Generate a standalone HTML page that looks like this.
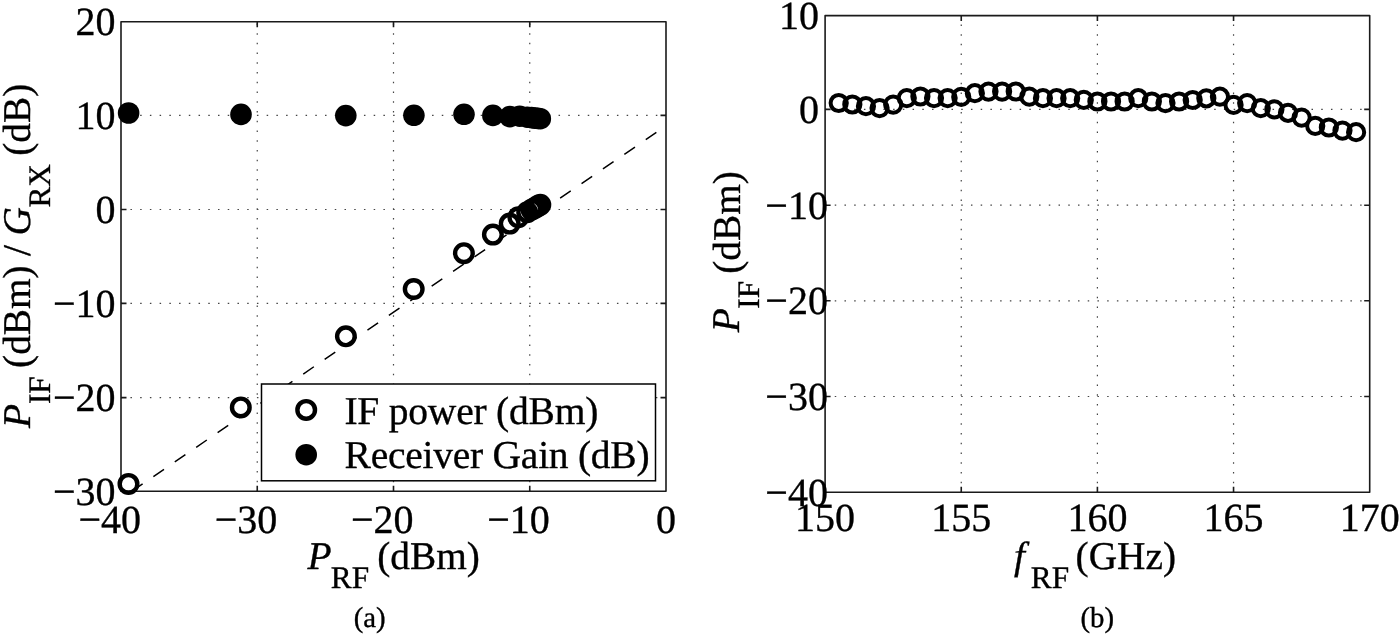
<!DOCTYPE html><html><head><meta charset="utf-8"><title>Figure</title>
<style>html,body{margin:0;padding:0;background:#fff;}svg{display:block;}text{font-family:"Liberation Serif", "Times New Roman", serif;fill:#000;text-rendering:geometricPrecision;stroke:#000;stroke-width:0.35px;}</style></head><body>
<svg width="1400" height="635" viewBox="0 0 1400 635">
<rect width="1400" height="635" fill="#fff"/>
<defs><clipPath id="ca"><rect x="121.00" y="21.70" width="545.00" height="469.50"/></clipPath></defs>
<g stroke="#444" stroke-width="1.20" stroke-dasharray="1.5 8.23" stroke-dashoffset="0.75" fill="none"><line x1="121.00" y1="115.40" x2="666.00" y2="115.40" stroke-dashoffset="0.3"/><line x1="121.00" y1="209.50" x2="666.00" y2="209.50" stroke-dashoffset="0.3"/><line x1="121.00" y1="303.40" x2="666.00" y2="303.40" stroke-dashoffset="0.3"/><line x1="121.00" y1="397.60" x2="666.00" y2="397.60" stroke-dashoffset="0.3"/><line x1="257.25" y1="491.20" x2="257.25" y2="21.70"/><line x1="393.50" y1="491.20" x2="393.50" y2="21.70"/><line x1="529.75" y1="491.20" x2="529.75" y2="21.70"/></g>
<path d="M121.00 115.40h5.50M666.00 115.40h-5.50M121.00 209.50h5.50M666.00 209.50h-5.50M121.00 303.40h5.50M666.00 303.40h-5.50M121.00 397.60h5.50M666.00 397.60h-5.50M257.25 491.20v-5.50M257.25 21.70v5.50M393.50 491.20v-5.50M393.50 21.70v5.50M529.75 491.20v-5.50M529.75 21.70v5.50" stroke="#1a1a1a" stroke-width="1.60" fill="none"/>
<rect x="121.00" y="21.70" width="545.00" height="469.50" fill="none" stroke="#1a1a1a" stroke-width="1.60" stroke-linejoin="round"/>
<line x1="131.15" y1="491.78" x2="666.00" y2="125.78" stroke="#000" stroke-width="1.5" stroke-dasharray="12.87 13.07" stroke-dashoffset="-1.0" clip-path="url(#ca)"/>
<g fill="none" stroke="#000" stroke-width="4.40"><circle cx="128.50" cy="483.90" r="8.80"/><circle cx="240.80" cy="407.40" r="8.80"/><circle cx="345.90" cy="336.30" r="8.80"/><circle cx="413.70" cy="289.00" r="8.80"/><circle cx="463.90" cy="253.20" r="8.80"/><circle cx="492.90" cy="234.60" r="8.80"/><circle cx="509.70" cy="223.60" r="8.80"/><circle cx="518.30" cy="217.30" r="8.80"/><circle cx="527.20" cy="212.20" r="8.80"/><circle cx="531.50" cy="209.70" r="8.80"/><circle cx="534.80" cy="207.90" r="8.80"/><circle cx="537.80" cy="206.10" r="8.80"/><circle cx="540.30" cy="204.70" r="8.80"/></g>
<g fill="#000"><circle cx="128.60" cy="113.00" r="10.80"/><circle cx="241.00" cy="114.40" r="10.80"/><circle cx="345.80" cy="115.60" r="10.80"/><circle cx="413.90" cy="115.30" r="10.80"/><circle cx="464.00" cy="114.30" r="10.80"/><circle cx="492.90" cy="115.40" r="10.80"/><circle cx="509.90" cy="116.60" r="10.80"/><circle cx="519.70" cy="116.20" r="10.80"/><circle cx="527.20" cy="117.20" r="10.80"/><circle cx="531.50" cy="117.60" r="10.80"/><circle cx="534.80" cy="118.10" r="10.80"/><circle cx="537.80" cy="118.40" r="10.80"/><circle cx="540.30" cy="118.70" r="10.80"/></g>
<rect x="261.5" y="384" width="394" height="96.8" fill="#fff" stroke="#000" stroke-width="1.5"/>
<circle cx="306.2" cy="409.9" r="8.80" fill="none" stroke="#000" stroke-width="4.40"/>
<circle cx="306.2" cy="454.7" r="10.80" fill="#000"/>
<text x="344.4" y="424.2" font-size="39.5" textLength="254" lengthAdjust="spacing">IF power (dBm)</text>
<text x="344.6" y="468.1" font-size="39.5" textLength="305" lengthAdjust="spacing">Receiver Gain (dB)</text>
<text x="115.60" y="35.30" font-size="40" text-anchor="end">20</text>
<text x="115.60" y="129.00" font-size="40" text-anchor="end">10</text>
<text x="115.60" y="223.10" font-size="40" text-anchor="end">0</text>
<text x="115.60" y="317.00" font-size="40" text-anchor="end">&#8722;10</text>
<text x="115.60" y="411.20" font-size="40" text-anchor="end">&#8722;20</text>
<text x="115.60" y="504.80" font-size="40" text-anchor="end">&#8722;30</text>
<text x="141.00" y="532.5" font-size="40" text-anchor="end">&#8722;40</text>
<text x="277.25" y="532.5" font-size="40" text-anchor="end">&#8722;30</text>
<text x="413.50" y="532.5" font-size="40" text-anchor="end">&#8722;20</text>
<text x="549.75" y="532.5" font-size="40" text-anchor="end">&#8722;10</text>
<text x="666.00" y="532.5" font-size="40" text-anchor="middle">0</text>
<text x="307.5" y="568.5" font-size="39.3" font-style="italic">P</text>
<text x="330.8" y="588.2" font-size="31.3">RF</text>
<text x="377.2" y="568.5" font-size="39.3">(dBm)</text>
<text transform="translate(29.80 428.00) rotate(-90)" font-size="39.3" font-style="italic">P</text>
<text transform="translate(49.80 404.10) rotate(-90)" font-size="31.3">IF</text>
<text transform="translate(30.00 367.90) rotate(-90)" font-size="39.3">(dBm)</text>
<text transform="translate(30.00 255.90) rotate(-90)" font-size="39.3">/</text>
<text transform="translate(30.00 235.40) rotate(-90)" font-size="39.3" font-style="italic">G</text>
<text transform="translate(49.80 207.60) rotate(-90)" font-size="31.3">RX</text>
<text transform="translate(30.00 155.80) rotate(-90)" font-size="39.3">(dB)</text>
<text x="353.7" y="627" font-size="28.8">(a)</text>
<g stroke="#444" stroke-width="1.20" stroke-dasharray="1.5 8.23" stroke-dashoffset="0.75" fill="none"><line x1="825.10" y1="109.40" x2="1369.70" y2="109.40" stroke-dashoffset="0.1"/><line x1="825.10" y1="205.20" x2="1369.70" y2="205.20" stroke-dashoffset="0.1"/><line x1="825.10" y1="300.80" x2="1369.70" y2="300.80" stroke-dashoffset="0.1"/><line x1="825.10" y1="396.50" x2="1369.70" y2="396.50" stroke-dashoffset="0.1"/><line x1="961.25" y1="492.20" x2="961.25" y2="15.60"/><line x1="1097.40" y1="492.20" x2="1097.40" y2="15.60"/><line x1="1233.55" y1="492.20" x2="1233.55" y2="15.60"/></g>
<path d="M825.10 109.40h5.50M1369.70 109.40h-5.50M825.10 205.20h5.50M1369.70 205.20h-5.50M825.10 300.80h5.50M1369.70 300.80h-5.50M825.10 396.50h5.50M1369.70 396.50h-5.50M961.25 492.20v-5.50M961.25 15.60v5.50M1097.40 492.20v-5.50M1097.40 15.60v5.50M1233.55 492.20v-5.50M1233.55 15.60v5.50" stroke="#1a1a1a" stroke-width="1.60" fill="none"/>
<rect x="825.10" y="15.60" width="544.60" height="476.60" fill="none" stroke="#1a1a1a" stroke-width="1.60" stroke-linejoin="round"/>
<g fill="none" stroke="#000" stroke-width="4.00"><circle cx="838.72" cy="103.00" r="8.10"/><circle cx="852.33" cy="104.50" r="8.10"/><circle cx="865.95" cy="106.20" r="8.10"/><circle cx="879.56" cy="108.10" r="8.10"/><circle cx="893.18" cy="104.60" r="8.10"/><circle cx="906.79" cy="98.10" r="8.10"/><circle cx="920.40" cy="96.50" r="8.10"/><circle cx="934.02" cy="98.10" r="8.10"/><circle cx="947.63" cy="98.10" r="8.10"/><circle cx="961.25" cy="96.90" r="8.10"/><circle cx="974.87" cy="93.20" r="8.10"/><circle cx="988.48" cy="91.60" r="8.10"/><circle cx="1002.10" cy="91.60" r="8.10"/><circle cx="1015.71" cy="91.50" r="8.10"/><circle cx="1029.33" cy="96.70" r="8.10"/><circle cx="1042.94" cy="98.20" r="8.10"/><circle cx="1056.56" cy="98.20" r="8.10"/><circle cx="1070.17" cy="98.20" r="8.10"/><circle cx="1083.79" cy="99.90" r="8.10"/><circle cx="1097.40" cy="101.50" r="8.10"/><circle cx="1111.02" cy="101.50" r="8.10"/><circle cx="1124.63" cy="101.50" r="8.10"/><circle cx="1138.25" cy="98.20" r="8.10"/><circle cx="1151.86" cy="101.50" r="8.10"/><circle cx="1165.47" cy="103.10" r="8.10"/><circle cx="1179.09" cy="101.50" r="8.10"/><circle cx="1192.70" cy="100.00" r="8.10"/><circle cx="1206.32" cy="98.30" r="8.10"/><circle cx="1219.93" cy="96.70" r="8.10"/><circle cx="1233.55" cy="104.90" r="8.10"/><circle cx="1247.16" cy="103.10" r="8.10"/><circle cx="1260.78" cy="108.20" r="8.10"/><circle cx="1274.39" cy="109.40" r="8.10"/><circle cx="1288.01" cy="112.80" r="8.10"/><circle cx="1301.62" cy="117.60" r="8.10"/><circle cx="1315.24" cy="125.90" r="8.10"/><circle cx="1328.86" cy="127.50" r="8.10"/><circle cx="1342.47" cy="130.60" r="8.10"/><circle cx="1356.09" cy="132.20" r="8.10"/></g>
<text x="819.10" y="29.20" font-size="40" text-anchor="end">10</text>
<text x="819.10" y="123.00" font-size="40" text-anchor="end">0</text>
<text x="827.90" y="218.80" font-size="40" text-anchor="end">&#8722;10</text>
<text x="827.90" y="314.40" font-size="40" text-anchor="end">&#8722;20</text>
<text x="827.90" y="410.10" font-size="40" text-anchor="end">&#8722;30</text>
<text x="827.90" y="505.80" font-size="40" text-anchor="end">&#8722;40</text>
<text x="825.10" y="531.4" font-size="40" text-anchor="middle">150</text>
<text x="961.25" y="531.4" font-size="40" text-anchor="middle">155</text>
<text x="1097.40" y="531.4" font-size="40" text-anchor="middle">160</text>
<text x="1233.55" y="531.4" font-size="40" text-anchor="middle">165</text>
<text x="1369.70" y="531.4" font-size="40" text-anchor="middle">170</text>
<text x="1014.0" y="568.5" font-size="39.3" font-style="italic">f</text>
<text x="1030.8" y="588.2" font-size="31.3">RF</text>
<text x="1075.6" y="568.5" font-size="39.3">(GHz)</text>
<text transform="translate(739.30 332.20) rotate(-90)" font-size="39.3" font-style="italic">P</text>
<text transform="translate(759.20 308.70) rotate(-90)" font-size="31.3">IF</text>
<text transform="translate(739.80 273.80) rotate(-90)" font-size="39.3">(dBm)</text>
<text x="1080.5" y="627" font-size="28.8">(b)</text>
</svg></body></html>
